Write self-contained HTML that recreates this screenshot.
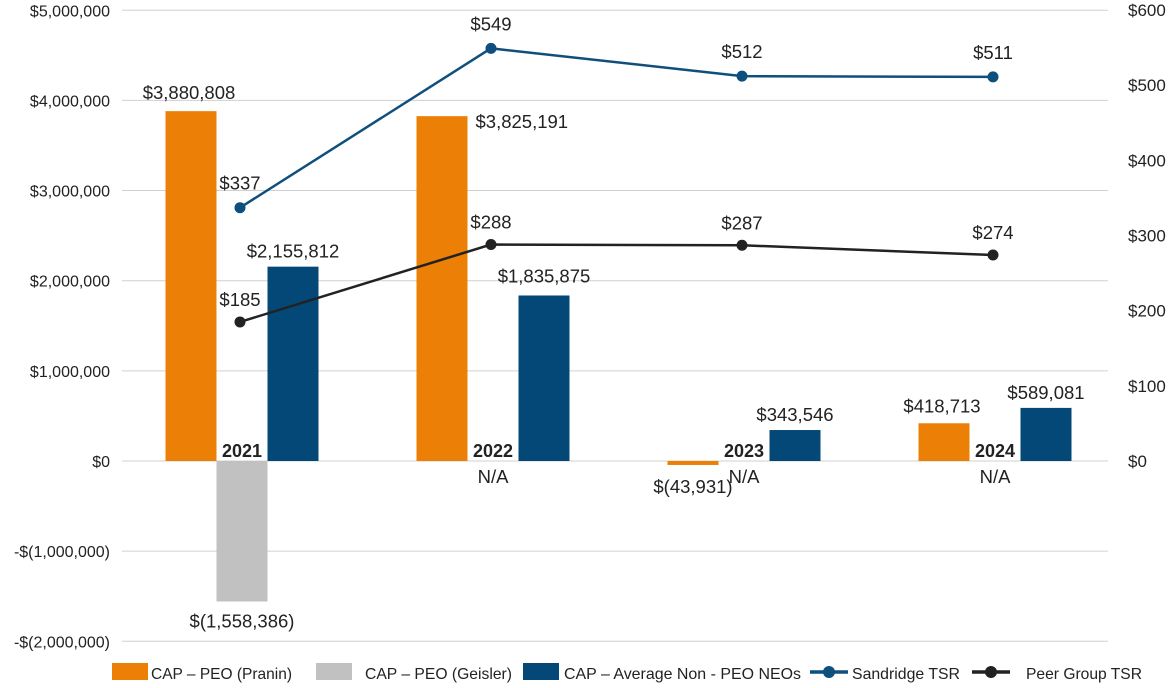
<!DOCTYPE html>
<html><head><meta charset="utf-8"><style>
html,body{margin:0;padding:0;background:#fff}
svg{display:block;font-family:"Liberation Sans",sans-serif}
</style></head><body>
<svg id="chart" width="1174" height="688" viewBox="0 0 1174 688"></svg>
<script>
const years=['2021','2022','2023','2024'];
const pranin=[3880808,3825191,-43931,418713];
const geisler=[-1558386,null,null,null];
const nonPeo=[2155812,1835875,343546,589081];
const sandridge=[337,549,512,511];
const peer=[185,288,287,274];
const leftTicks=[5000000,4000000,3000000,2000000,1000000,0,-1000000,-2000000];
const leftTickLabels=['$5,000,000','$4,000,000','$3,000,000','$2,000,000','$1,000,000','$0','-$(1,000,000)','-$(2,000,000)'];
const rightTicks=[600,500,400,300,200,100,0];
const praninLabels=['$3,880,808','$3,825,191','$(43,931)','$418,713'];
const geislerLabels=['$(1,558,386)','N/A','N/A','N/A'];
const nonPeoLabels=['$2,155,812','$1,835,875','$343,546','$589,081'];

const svg=document.getElementById('chart');
const NS='http://www.w3.org/2000/svg';
const y0=461, pxPerM=90.15;
const yL=v=>y0-v/1e6*pxPerM;
const yR=v=>y0-v*(451/600);
const xC=i=>242+251*i;
const BW=51;
function mk(tag,attrs,txt){const e=document.createElementNS(NS,tag);for(const k in attrs)e.setAttribute(k,attrs[k]);if(txt!=null)e.textContent=txt;svg.appendChild(e);return e;}

leftTicks.forEach((t,i)=>{
  const g=mk('line',{x1:122,x2:1108,y1:yL(t),y2:yL(t),stroke:'#d0d0d0','stroke-width':1});
  
  
  const l=mk('text',{x:110,y:yL(t)+6,'text-anchor':'end','font-size':16,fill:'#222'},leftTickLabels[i]);
  
  
});
rightTicks.forEach(t=>{
  const l=mk('text',{x:1128,y:yR(t)+6,'font-size':17,fill:'#222'},'$'+t);
  
  
});

function bar(v,x,color,name){
  const y=Math.min(yL(v),y0),h=Math.abs(yL(v)-y0);
  const r=mk('rect',{x:x,y:y,width:BW,height:Math.max(h,0.5),fill:color});
  
  
}
years.forEach((yr,i)=>{
  const c=xC(i);
  bar(pranin[i],c-BW/2-BW,'#ec8006','bar-pranin-'+yr);
  if(geisler[i]!=null) bar(geisler[i],c-BW/2,'#c0c1c0','bar-geisler-'+yr);
  bar(nonPeo[i],c+BW/2,'#044877','bar-non-peo-'+yr);
  const yl=mk('text',{x:c,y:457,'text-anchor':'middle','font-size':18,'font-weight':'bold',fill:'#222'},yr);
  
  
  let px,py,anc='middle';
  if(i==0){px=c-BW-2;py=yL(pranin[i])-12;}
  else if(i==1){px=c-BW/2+8;py=yL(pranin[i])+12;anc='start';}
  else if(i==2){px=c-BW;py=y0+32;}
  else {px=c-BW-2;py=yL(pranin[i])-11;}
  const pl=mk('text',{x:px,y:py,'text-anchor':anc,'font-size':18.5,fill:'#222'},praninLabels[i]);
  
  
  const gy=geisler[i]!=null?yL(geisler[i])+26:y0+22;
  const gl=mk('text',{x:c,y:gy,'text-anchor':'middle','font-size':18.5,fill:'#222'},geislerLabels[i]);
  
  
  const nl=mk('text',{x:c+BW,y:i==1?yL(nonPeo[i])-13:yL(nonPeo[i])-9,'text-anchor':'middle','font-size':18.5,fill:'#222'},nonPeoLabels[i]);
  
  
});

function series(vals,color,name,dy){
  const pts=vals.map((v,i)=>xC(i)-2+','+yR(v)).join(' ');
  const pl=mk('polyline',{points:pts,fill:'none',stroke:color,'stroke-width':2.5});
  
  
  vals.forEach((v,i)=>{
    const c=mk('circle',{cx:xC(i)-2,cy:yR(v),r:5.5,fill:color});
    
    
    const t=mk('text',{x:xC(i)-2,y:yR(v)+dy,'text-anchor':'middle','font-size':18.5,fill:'#222'},'$'+v);
    
    
  });
}
series(sandridge,'#0e4f7d','sandridge-tsr',-18);
series(peer,'#222','peer-group-tsr',-16);

// legend
function legText(x,w,t,n){const e=mk('text',{x:x,y:679,'font-size':16,fill:'#222',textLength:w,lengthAdjust:'spacingAndGlyphs'},t);}
[[112,'#ec8006','legend-pranin-swatch'],[316,'#c0c1c0','legend-geisler-swatch'],[523,'#044877','legend-non-peo-swatch']].forEach(s=>{
  const r=mk('rect',{x:s[0],y:663,width:36,height:17,fill:s[1]});
});
legText(151,141,'CAP – PEO (Pranin)','legend-pranin-label');
legText(365,147,'CAP – PEO (Geisler)','legend-geisler-label');
legText(564,237,'CAP – Average Non - PEO NEOs','legend-non-peo-label');
[[810,'#0e4f7d','legend-sandridge-marker'],[972,'#222','legend-peer-marker']].forEach(s=>{
  const l=mk('line',{x1:s[0],x2:s[0]+38,y1:672,y2:672,stroke:s[1],'stroke-width':3.5});
  const c=mk('circle',{cx:s[0]+19,cy:672,r:6,fill:s[1]});
});
legText(852,108,'Sandridge TSR','legend-sandridge-label');
legText(1026,116,'Peer Group TSR','legend-peer-label');
</script>
</body></html>
